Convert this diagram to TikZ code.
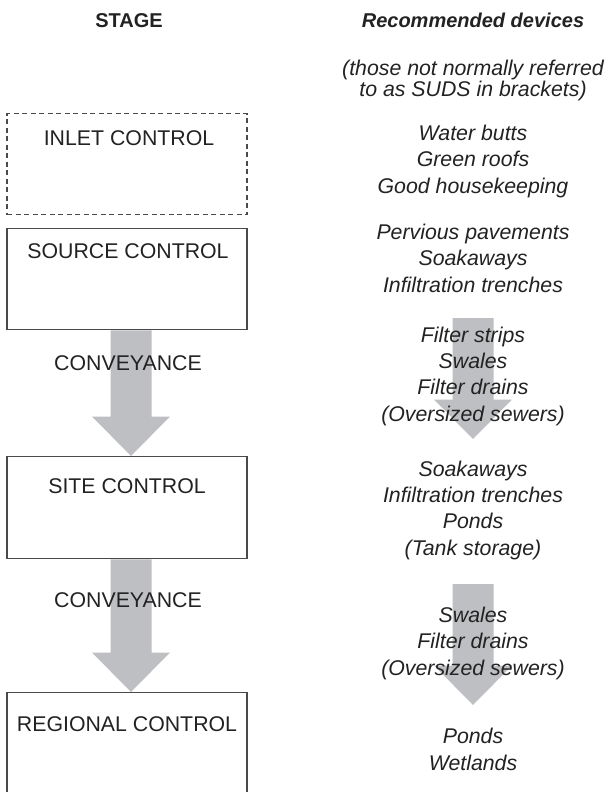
\documentclass[tikz,border=0pt]{standalone}
\usepackage{fontspec}
\setmainfont{Liberation Sans}
\usetikzlibrary{calc,positioning,backgrounds}
\definecolor{flow}{HTML}{BEBFC2}
\definecolor{ink}{HTML}{222222}
\definecolor{frame}{HTML}{4A4A4A}

% broad grey arrow from #1 down to its tip #2
\newcommand{\flowarrow}[2]{%
  \fill[flow] ($(#1)+(-20.5,0)$) -- ($(#2)+(-20.5,-39.5)$) -- ($(#2)+(-39,-39.5)$) -- (#2)
    -- ($(#2)+(39,-39.5)$) -- ($(#2)+(20.5,-39.5)$) -- ($(#1)+(20.5,0)$) -- cycle;}

\begin{document}
\begin{tikzpicture}[x=1pt, y=-1pt,
  txt/.style={font=\fontsize{21.3}{26.3}\selectfont, text=ink, inner sep=0pt, anchor=base},
  dev/.style={txt, font=\fontsize{21.3}{26.3}\selectfont\itshape, align=center},
  stagebox/.style={draw=frame, line width=1.3pt, minimum width=240pt, inner sep=0pt, anchor=north},
  inletbox/.style={stagebox, dash pattern=on 5pt off 3.5pt}]
\path[use as bounding box] (0,0) rectangle (605,792);
\clip (0,0) rectangle (605,792);

% headings (multi-line nodes sit on their last baseline)
\node[txt, font=\fontsize{20}{24}\selectfont\bfseries] (stagehd) at (129,28) {STAGE};
\node[txt, font=\fontsize{20}{24}\selectfont\bfseries\itshape] (devhd) at (473,28) {Recommended devices};
\node[dev, font=\fontsize{21.3}{21}\selectfont\itshape] (note) at (473,96) {(those not normally referred\\to as SUDS in brackets)};

% stages
\node[inletbox, minimum height=101pt] (inlet) at (127,113) {};
\node[stagebox, minimum height=101pt] (source) at (127,228) {};
\node[stagebox, minimum height=102pt] (site) at (127,456) {};
\node[stagebox, minimum height=130pt] (regional) at (127,692) {};
\node[txt] (inlet-t) at ([xshift=2pt,yshift=-32pt]inlet.north) {INLET CONTROL};
\node[txt] (source-t) at ([xshift=1pt,yshift=-30pt]source.north) {SOURCE CONTROL};
\node[txt] (site-t) at ([yshift=-37pt]site.north) {SITE CONTROL};
\node[txt] (regional-t) at ([yshift=-39pt]regional.north) {REGIONAL CONTROL};
\node[txt] (conv1) at (128,370) {CONVEYANCE};
\node[txt] (conv2) at (128,607) {CONVEYANCE};

% devices
\node[dev] (inlet-d) at (473,193) {Water butts\\Green roofs\\Good housekeeping};
\node[dev] (source-d) at (473,292) {Pervious pavements\\Soakaways\\Infiltration trenches};
\node[dev] (conv1-d) at (473,421) {Filter strips\\Swales\\Filter drains\\(Oversized sewers)};
\node[dev] (site-d) at (473,555) {Soakaways\\Infiltration trenches\\Ponds\\(Tank storage)};
\node[dev] (conv2-d) at (473,675) {Swales\\Filter drains\\(Oversized sewers)};
\node[dev] (regional-d) at (473,770) {Ponds\\Wetlands};

\coordinate (f1a) at ([xshift=4pt]source.south);
\coordinate (f1b) at ([xshift=4pt]site.north);
\coordinate (f2a) at ([xshift=4pt]site.south);
\coordinate (f2b) at ([xshift=4pt]regional.north);
\coordinate (f3a) at (473,318);
\coordinate (f3b) at (473,439);
\coordinate (f4a) at (473,584);
\coordinate (f4b) at (473,705);
\begin{scope}[on background layer]
  \flowarrow{f1a}{f1b}
  \flowarrow{f2a}{f2b}
  \flowarrow{f3a}{f3b}
  \flowarrow{f4a}{f4b}
\end{scope}
\end{tikzpicture}
\end{document}
